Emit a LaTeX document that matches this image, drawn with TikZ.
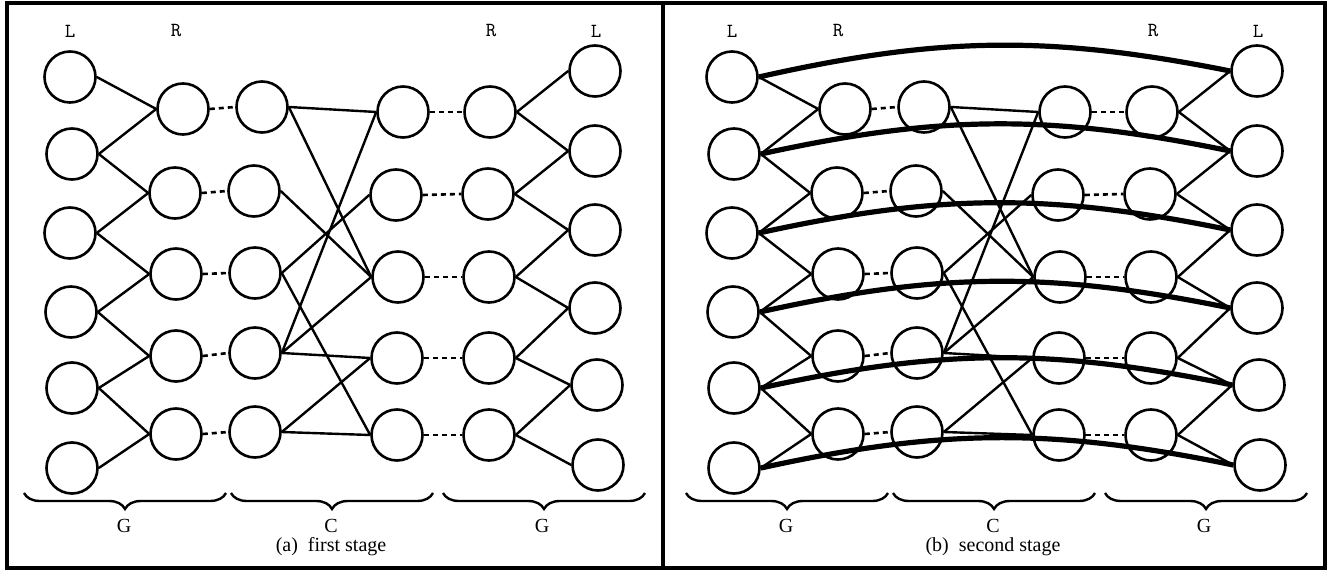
\documentclass[tikz,border=0pt]{standalone}
\usepackage{fontspec}
\setmainfont{Liberation Serif}
\usetikzlibrary{decorations.pathreplacing}

\tikzset{
  vtx/.style={circle, draw, line width=1.3pt, minimum size=25.5pt, inner sep=0pt},
  wire/.style={line width=1.2pt},
  dots/.style={line width=1.3pt, dash pattern=on 2.5pt off 2pt},
  arcline/.style={line width=2.6pt, bend left=12},
  lbl/.style={font=\ttfamily\fontsize{10}{10}\selectfont},
  glbl/.style={font=\fontsize{10}{10}\selectfont, inner sep=0.5pt},
  capt/.style={font=\fontsize{10}{12}\selectfont, inner sep=0.5pt},
  frame/.style={line width=2pt},
  bracebar/.style={decorate, decoration={brace, mirror, amplitude=8pt}, line width=1.2pt},
}

\begin{document}
\begin{tikzpicture}[x=0.5pt, y=-0.5pt]
  \useasboundingbox (0,0) rectangle (1331,571);
  % Frame
  \draw[frame] (7,3) rectangle (1325,568);
  \draw[frame] (663,3) -- (663,568);
  \foreach \p/\dx/\stg in {a/0/first, b/662/second}{
    \begin{scope}[xshift=\dx*0.5pt]
      % Left G block
      \foreach \i/\x/\y in {1/70/77, 2/72/154, 3/70/233, 4/71/312, 5/72/388, 6/72/468}
        \node[vtx] (\p lo\i) at (\x,\y) {};
      \foreach \i/\x/\y in {1/183/109, 2/175/193, 3/176/274, 4/176/356, 5/176/434}
        \node[vtx] (\p li\i) at (\x,\y) {};
      % C block
      \foreach \i/\x/\y in {1/262/107, 2/254/191, 3/255/273, 4/255/353, 5/255/432}
        \node[vtx] (\p cin\i) at (\x,\y) {};
      \foreach \i/\x/\y in {1/403/112, 2/396/195, 3/398/277, 4/397/358, 5/397/435}
        \node[vtx] (\p cout\i) at (\x,\y) {};
      % Right G block
      \foreach \i/\x/\y in {1/490/112, 2/488/194, 3/489/277, 4/489/358, 5/489/435}
        \node[vtx] (\p ri\i) at (\x,\y) {};
      \foreach \i/\x/\y in {1/595/71, 2/595/151, 3/595/230, 4/595/308, 5/597/385, 6/598/465}
        \node[vtx] (\p ro\i) at (\x,\y) {};
      % Links
      \foreach \i/\j in {1/1,2/1,2/2,3/2,3/3,4/3,4/4,5/4,5/5,6/5}
        \draw[wire] (\p lo\i.east) -- (\p li\j.west);
      \foreach \i/\j in {1/1,1/3,2/3,3/2,3/5,4/1,4/3,4/4,5/4,5/5}
        \draw[wire] (\p cin\i.east) -- (\p cout\j.west);
      \foreach \i/\j in {1/1,1/2,2/2,2/3,3/3,3/4,4/4,4/5,5/5,5/6}
        \draw[wire] (\p ri\i.east) -- (\p ro\j.west);
      \foreach \i in {1,...,5}{
        \draw[dots] (\p li\i.east) -- (\p cin\i.west);
        \draw[dots] (\p cout\i.east) -- (\p ri\i.west);
      }
      % Labels
      \node[lbl] (\p t1) at (70,31) {L};
      \node[lbl] (\p t2) at (176,31) {R};
      \node[lbl] (\p t3) at (491,31) {R};
      \node[lbl] (\p t4) at (596,31) {L};
      % Braces
      \draw[bracebar] (24,493) -- (226,493);
      \draw[bracebar] (231,493) -- (433,493);
      \draw[bracebar] (443,493) -- (645,493);
      \node[glbl] (\p g1) at (124,526) {G};
      \node[glbl] (\p c) at (331,526) {C};
      \node[glbl] (\p g2) at (542,526) {G};
      \node[capt] (\p cap) at (331,547) {(\p)\enspace\stg{} stage};
    \end{scope}
  }
  % Second-stage links
  \foreach \i in {1,...,6}
    \draw[arcline] (blo\i.east) to (bro\i.west);
\end{tikzpicture}
\end{document}
